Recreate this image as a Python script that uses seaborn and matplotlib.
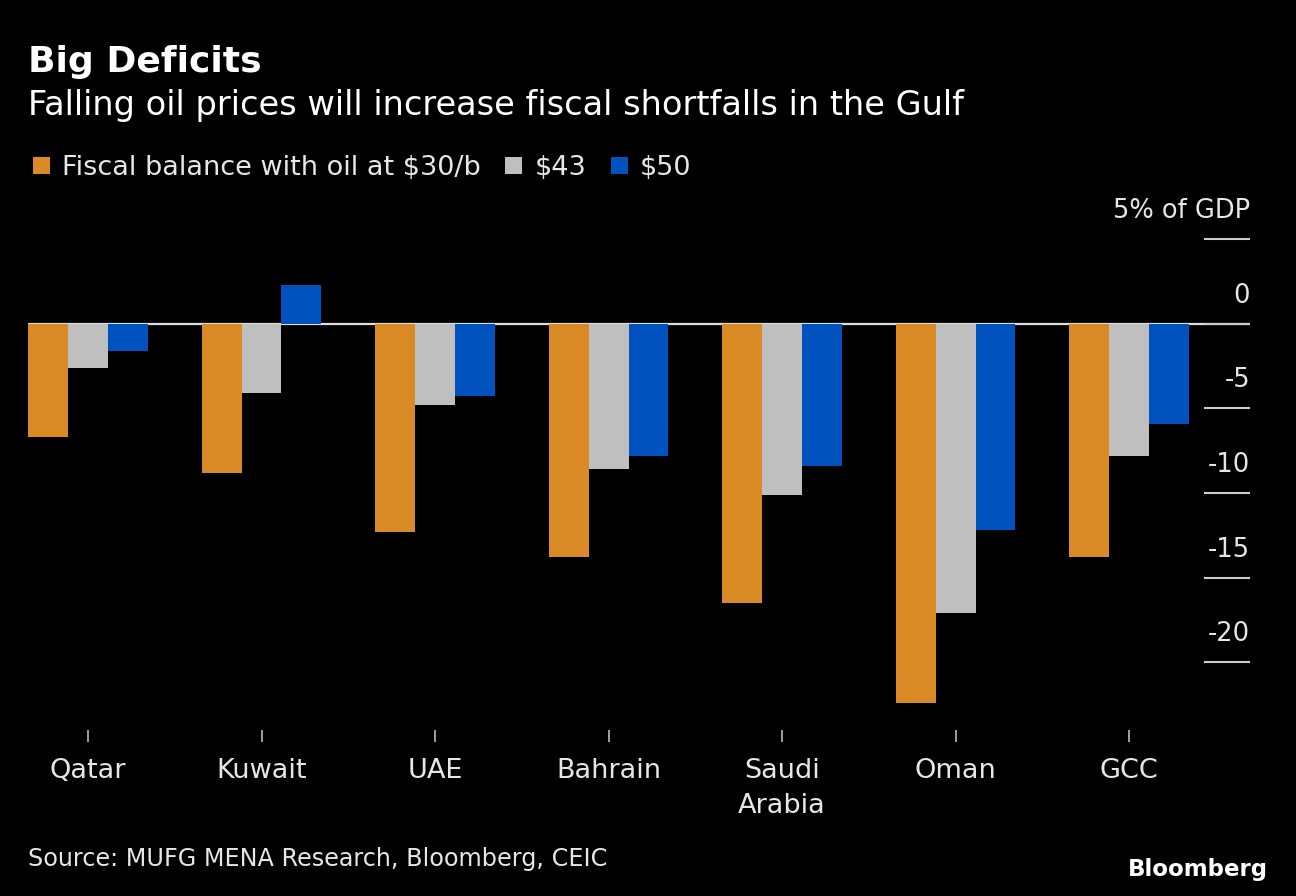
import pandas as pd
import matplotlib.pyplot as plt
import matplotlib.transforms as mtransforms
import seaborn as sns

# Chart data (% of GDP)
COUNTRIES = ['Qatar', 'Kuwait', 'UAE', 'Bahrain', 'Saudi\nArabia', 'Oman', 'GCC']
SCENARIOS = ['Fiscal balance with oil at $30/b', '$43', '$50']
OIL_30 = [-6.7, -8.8, -12.3, -13.8, -16.5, -22.4, -13.8]
OIL_43 = [-2.6, -4.1, -4.8, -8.6, -10.1, -17.1, -7.8]
OIL_50 = [-1.6, 2.3, -4.3, -7.8, -8.4, -12.2, -5.9]
Y_TICKS = [5, 0, -5, -10, -15, -20]
Y_TICK_LABELS = ['5% of GDP', '0', '-5', '-10', '-15', '-20']

COLORS = ['#DA8A24', '#BFBFBF', '#0052BE']
TEXT = '#E6E6E6'
BG = '#000000'

W, H = 1296, 896


def build_frame():
    """Long-form table for seaborn."""
    rows = []
    for label, values in zip(SCENARIOS, [OIL_30, OIL_43, OIL_50]):
        for country, v in zip(COUNTRIES, values):
            rows.append({'country': country, 'scenario': label, 'value': v})
    return pd.DataFrame(rows)


def main():
    sns.set_theme(style='white', rc={
        'axes.facecolor': BG,
        'figure.facecolor': BG,
        'text.color': TEXT,
        'xtick.color': '#BBBBBB',
        'ytick.color': '#CCCCCC',
        'axes.labelcolor': TEXT,
    })
    plt.rcParams['font.family'] = ['DejaVu Sans']
    plt.rcParams['text.parse_math'] = False

    df = build_frame()

    fig = plt.figure(figsize=(W / 100, H / 100), dpi=100)
    ax = fig.add_axes([28 / W, (H - 730) / H, 1222 / W, 491 / H])

    ax.axhline(0, color='#DDDDDD', lw=1.6, zorder=0)

    sns.barplot(data=df, x='country', y='value', hue='scenario',
                order=COUNTRIES, hue_order=SCENARIOS, palette=COLORS,
                saturation=1, width=0.69, gap=0, linewidth=0, ax=ax,
                zorder=2)

    ax.set_xlim(-0.346, 6.697)
    ax.set_ylim(-24, 5)
    ax.set_xlabel('')
    ax.set_ylabel('')
    for s in ax.spines.values():
        s.set_visible(False)

    # x ticks: short marks below the plot
    ax.tick_params(axis='x', bottom=True, direction='out', length=8.6,
                   width=1.2, pad=11.5, labelsize=19.5, labelcolor=TEXT)
    for lab in ax.get_xticklabels():
        lab.set_linespacing(1.45)

    # y ticks: short lines pointing in from the right edge, labels above them
    ax.yaxis.tick_right()
    ax.set_yticks(Y_TICKS)
    ax.tick_params(axis='y', right=True, left=False, direction='in',
                   length=33, width=1.5, labelright=False)
    trans = mtransforms.blended_transform_factory(ax.transAxes, ax.transData)
    trans = mtransforms.offset_copy(trans, fig=fig, y=28, units='dots')
    for v, lab in zip(Y_TICKS, Y_TICK_LABELS):
        ax.text(1.0, v, lab, transform=trans, ha='right', va='center',
                fontsize=18.5, color=TEXT)

    # legend across the top
    sns.move_legend(ax, 'center left', bbox_to_anchor=(33 / W, 1 - 168 / H),
                    bbox_transform=fig.transFigure, ncol=3, frameon=False,
                    title=None, fontsize=19.5, borderaxespad=0, borderpad=0,
                    handlelength=0.63, handleheight=0.63, handletextpad=0.45,
                    columnspacing=0.9)
    for t in ax.get_legend().get_texts():
        t.set_color(TEXT)

    fig.text(28 / W, 1 - 62 / H, 'Big Deficits', fontsize=26,
             fontweight='bold', color='white', va='center')
    fig.text(28 / W, 1 - 106 / H,
             'Falling oil prices will increase fiscal shortfalls in the Gulf',
             fontsize=24.2, color='white', va='center')
    fig.text(28 / W, 1 - 859 / H,
             'Source: MUFG MENA Research, Bloomberg, CEIC',
             fontsize=17.2, color=TEXT, va='center')
    fig.text(1268 / W, 1 - 869 / H, 'Bloomberg', fontsize=16.5,
             fontweight='bold', color='white', ha='right', va='center')

    fig.savefig('out.png', dpi=100, facecolor=BG)


if __name__ == '__main__':
    main()
